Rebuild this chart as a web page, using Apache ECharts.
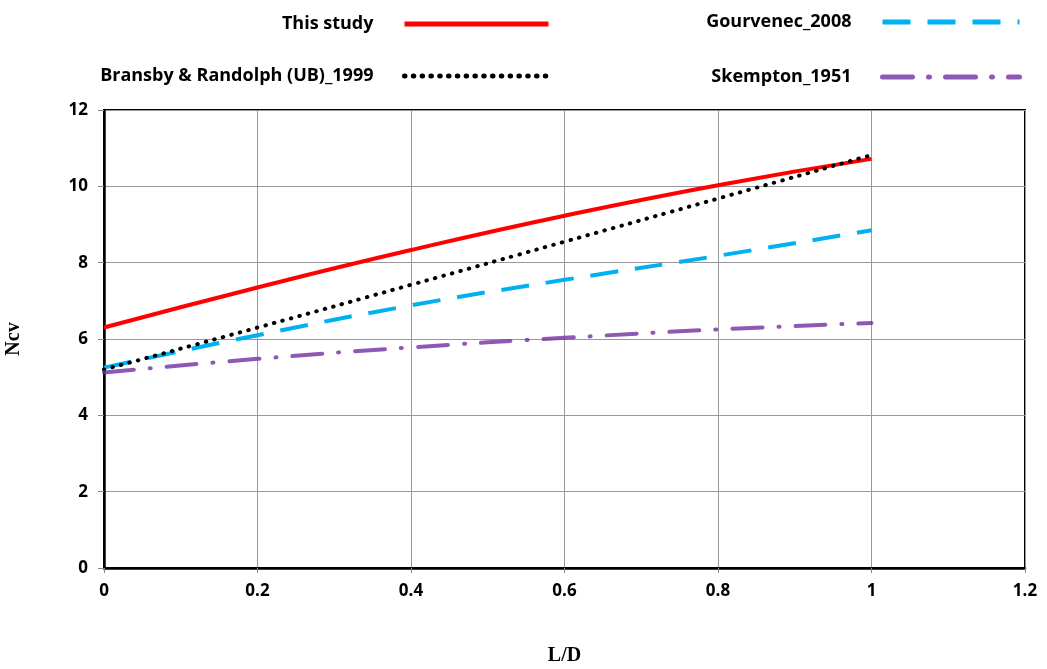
<!DOCTYPE html>
<html>
<head>
<meta charset="utf-8">
<script src="https://cdn.jsdelivr.net/npm/echarts@6/dist/echarts.min.js"></script>
<style>
  html, body { margin: 0; padding: 0; background: #fff; }
  #chart { width: 1047px; height: 669px; }
</style>
</head>
<body>
<div id="chart"></div>
<script>
// L/D values and Ncv curves
const ratios = [0, 0.2, 0.4, 0.6, 0.8, 1]
const thisStudy = [6.3, 7.35, 8.33, 9.23, 10.03, 10.72]
const bransby = [5.2, 6.3, 7.42, 8.55, 9.68, 10.82]
const gourvenec = [5.25, 6.1, 6.88, 7.55, 8.18, 8.85]
const skempton = [5.12, 5.48, 5.78, 6.03, 6.25, 6.42]

const names = ['This study', 'Gourvenec_2008', 'Bransby & Randolph (UB)_1999', 'Skempton_1951']

const chart = echarts.init(document.getElementById('chart'))

const pairs = (ys) => ratios.map((x, i) => [x, ys[i]])
const fontLabel = '"Open Sans", sans-serif'

function legendAt(name, right, top, width) {
  return {
    data: [name],
    right: right,
    top: top,
    align: 'right',
    itemWidth: width,
    itemHeight: 14,
    itemGap: 0,
    itemStyle: { opacity: 0 },
    lineStyle: { width: 5 },
    textStyle: { fontFamily: fontLabel, fontWeight: 'bold', fontSize: 18, color: '#000', padding: [0, 26, 0, 0] },
    selectedMode: false
  }
}

const options = {
  animation: false,
  legend: [
    legendAt(names[0], 491, 10, 144),
    legendAt(names[1], 20, 8, 137),
    legendAt(names[2], 491, 62, 144),
    legendAt(names[3], 20, 63, 137)
  ],
  grid: {
    left: 104, right: 22, top: 110, bottom: 101,
    outerBoundsMode: 'none',
    show: true, borderColor: '#000', borderWidth: 2
  },
  xAxis: {
    type: 'value',
    min: 0, max: 1.2, interval: 0.2,
    name: 'L/D',
    nameLocation: 'middle',
    nameGap: 78,
    nameTextStyle: { fontFamily: '"Liberation Serif", serif', fontWeight: 'bold', fontSize: 20, color: '#000' },
    axisLine: { lineStyle: { color: '#000', width: 2.5 } },
    axisTick: { show: true, length: 5, lineStyle: { color: '#888' } },
    axisLabel: {
      margin: 15,
      fontFamily: fontLabel, fontWeight: 'bold', fontSize: 17, color: '#000',
      formatter: (v) => String(Math.round(v * 10) / 10)
    },
    splitLine: { lineStyle: { color: '#999', width: 1 } }
  },
  yAxis: {
    type: 'value',
    min: 0, max: 12, interval: 2,
    name: 'Ncv',
    nameLocation: 'middle',
    nameGap: 80,
    nameTextStyle: { fontFamily: '"Liberation Serif", serif', fontWeight: 'bold', fontSize: 20, color: '#000' },
    axisLine: { show: true, lineStyle: { color: '#000', width: 2.5 } },
    axisTick: { show: true, length: 6, lineStyle: { color: '#888' } },
    axisLabel: { margin: 16, fontFamily: fontLabel, fontWeight: 'bold', fontSize: 17, color: '#000' },
    splitLine: { lineStyle: { color: '#999', width: 1 } }
  },
  series: [
    {
      name: names[0], type: 'line', smooth: true, symbol: 'none', data: pairs(thisStudy),
      lineStyle: { color: '#ff0000', width: 4 }, itemStyle: { color: '#ff0000' }
    },
    {
      name: names[1], type: 'line', smooth: true, symbol: 'none', data: pairs(gourvenec),
      lineStyle: { color: '#00b0f0', width: 4, type: [28, 17] }, itemStyle: { color: '#00b0f0' }
    },
    {
      name: names[2], type: 'line', smooth: true, symbol: 'none', data: pairs(bransby),
      lineStyle: { color: '#000', width: 4, type: [0.5, 8.3], cap: 'round' }, itemStyle: { color: '#000' }
    },
    {
      name: names[3], type: 'line', smooth: true, symbol: 'none', data: pairs(skempton),
      lineStyle: { color: '#7030a0', width: 4, type: [30, 16, 1, 16], cap: 'round', opacity: 0.8 }, itemStyle: { color: '#7030a0' }
    }
  ]
}

chart.setOption(options)
</script>
</body>
</html>
